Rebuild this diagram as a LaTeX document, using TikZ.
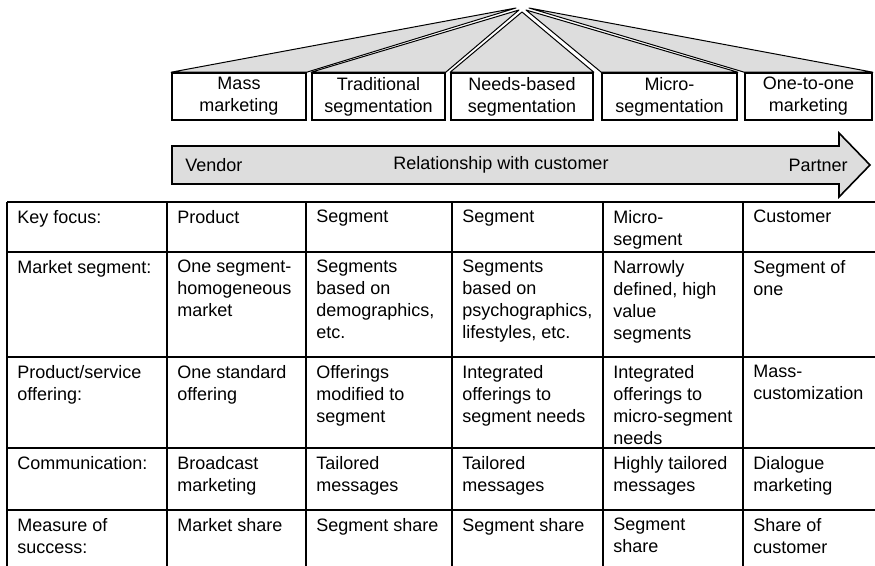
\documentclass[tikz,border=0pt]{standalone}
\usepackage{fontspec}
\setmainfont{Liberation Sans}
\usetikzlibrary{positioning,backgrounds}

\definecolor{fangray}{RGB}{221,221,221}
\tikzset{
  segbox/.style={draw, fill=white, line width=0.8pt, align=center, inner sep=0pt,
    minimum height=23.5pt, font=\fontsize{9}{11}\selectfont},
  celltext/.style={anchor=north west, align=left, inner sep=0pt, font=\fontsize{9}{11}\selectfont},
  arrowtext/.style={inner sep=0pt, font=\fontsize{9}{11}\selectfont},
  fan/.style={fill=fangray, draw, line width=0.5pt, line join=round},
  grid/.style={line width=0.8pt}
}

\begin{document}
\begin{tikzpicture}[x=0.5pt, y=-0.5pt]
  \useasboundingbox (0,0) rectangle (875,566);
  % approaches
  \foreach \n/\x/\w/\t in {1/239/67/{Mass\\marketing}, 2/378.5/66.5/{Traditional\\segmentation},
      3/522/71/{Needs-based\\segmentation}, 4/669.5/67.5/{Micro-\\segmentation}, 5/808.5/63.5/{One-to-one\\marketing}}
    \node[segbox, minimum width=\w pt] (box\n) at (\x,96.5) {\t};
  % fan
  \begin{scope}[on background layer]
    \foreach \n/\x/\y in {1/516/8, 2/519/10, 3/522/12, 4/526/10, 5/529/8} {
      \coordinate (apex\n) at (\x,\y);
      \filldraw[fan] (apex\n) -- (box\n.north west) -- (box\n.north east) -- cycle;
    }
  \end{scope}
  % relationship arrow
  \filldraw[fill=fangray, line width=0.8pt, line join=miter]
    (172,146) -- (839,146) -- (839,133) -- (870,165) -- (839,197) -- (839,184) -- (172,184) -- cycle;
  \node[arrowtext, anchor=west] (vendor) at (185,165) {Vendor};
  \node[arrowtext] (relation) at (501,165) {Relationship with customer};
  \node[arrowtext, anchor=east] (partner) at (848,165) {Partner};
  % table
  \foreach \y in {202,252,357,448,510}
    \draw[grid] (7,\y) -- (875,\y);
  \foreach \x in {7,167,306,452,603,743}
    \draw[grid] (\x,202) -- (\x,566);
  \foreach \n/\x/\t in {1/17/{Key focus:}, 2/177/Product, 3/316/Segment, 4/462/Segment,
      5/613/{Micro-\\segment}, 6/753/Customer}
    \node[celltext] (focus\n) at (\x,210) {\t};
  \foreach \n/\x/\t in {1/17/{Market segment:}, 2/177/{One segment-\\homogeneous\\market},
      3/316/{Segments\\based on\\demographics,\\etc.}, 4/462/{Segments\\based on\\psychographics,\\lifestyles, etc.},
      5/613/{Narrowly\\defined, high\\value\\segments}, 6/753/{Segment of\\one}}
    \node[celltext] (market\n) at (\x,260) {\t};
  \foreach \n/\x/\t in {1/17/{Product/service\\offering:}, 2/177/{One standard\\offering},
      3/316/{Offerings\\modified to\\segment}, 4/462/{Integrated\\offerings to\\segment needs},
      5/613/{Integrated\\offerings to\\micro-segment\\needs}, 6/753/{Mass-\\customization}}
    \node[celltext] (offer\n) at (\x,365) {\t};
  \foreach \n/\x/\t in {1/17/{Communication:}, 2/177/{Broadcast\\marketing}, 3/316/{Tailored\\messages},
      4/462/{Tailored\\messages}, 5/613/{Highly tailored\\messages}, 6/753/{Dialogue\\marketing}}
    \node[celltext] (comm\n) at (\x,456) {\t};
  \foreach \n/\x/\t in {1/17/{Measure of\\success:}, 2/177/{Market share}, 3/316/{Segment share},
      4/462/{Segment share}, 5/613/{Segment\\share}, 6/753/{Share of\\customer}}
    \node[celltext] (measure\n) at (\x,518) {\t};
\end{tikzpicture}
\end{document}
